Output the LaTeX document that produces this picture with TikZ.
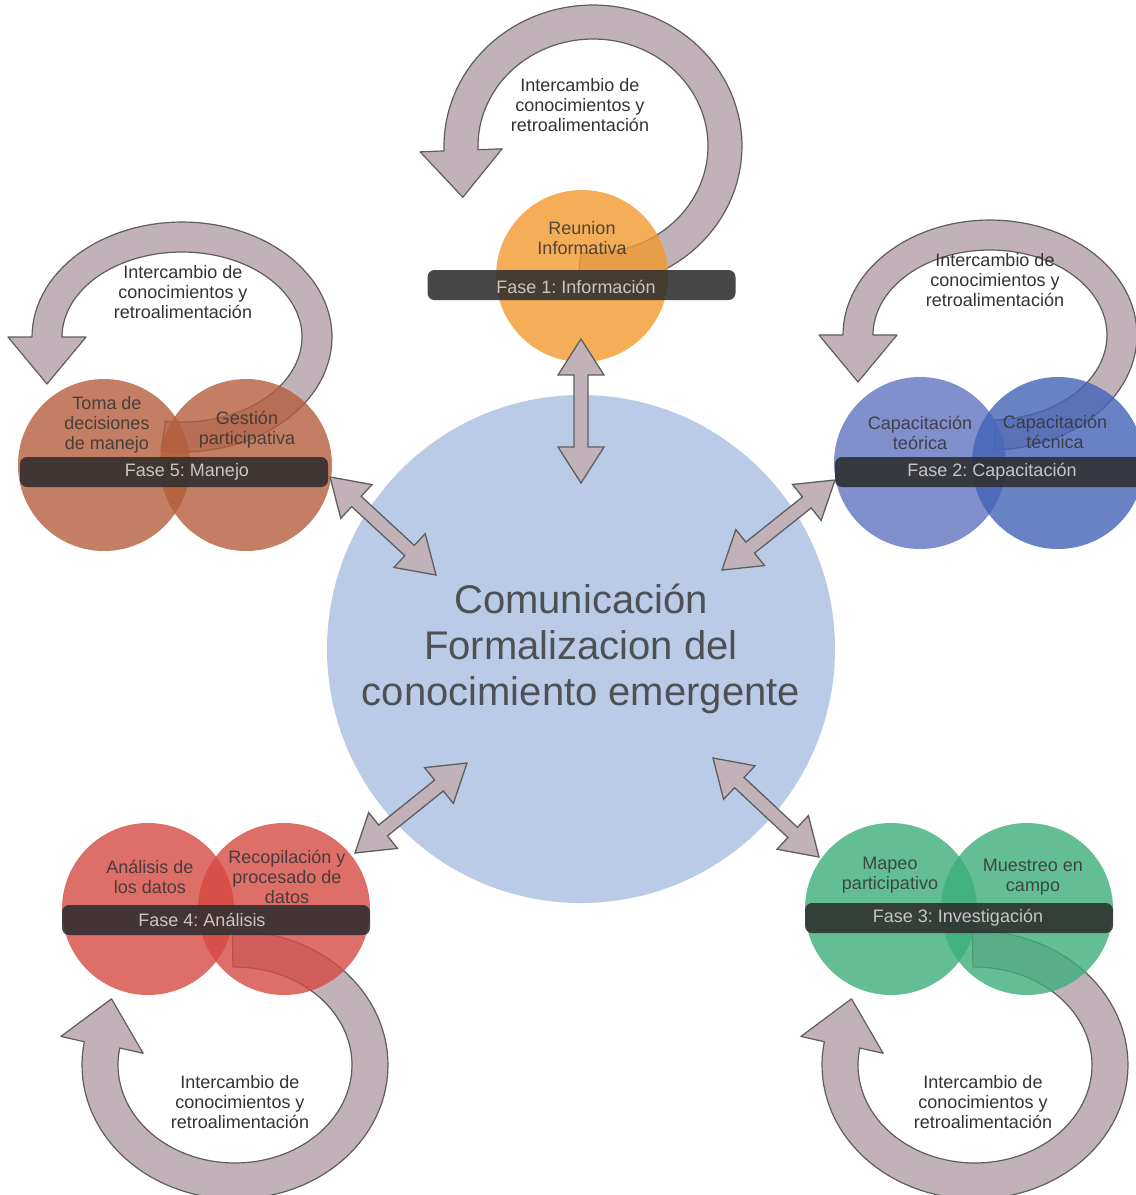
\documentclass[tikz,border=0pt]{standalone}
\usepackage{fontspec}
\setmainfont{Liberation Sans}
\frenchspacing
\usetikzlibrary{calc}
\definecolor{loopgrey}{HTML}{C0B2B8}
\definecolor{edgegrey}{HTML}{5E5E5E}
\definecolor{hubblue}{HTML}{B9CBE6}
\definecolor{hubink}{HTML}{4D5055}
\definecolor{barblack}{HTML}{2E2E2E}
\definecolor{barink}{HTML}{C9C5C2}
\definecolor{ink}{HTML}{333333}
\definecolor{infoorange}{HTML}{F39A2E}
\definecolor{mgmtbrown}{HTML}{B55E3C}
\definecolor{trainblueA}{HTML}{6075C0}
\definecolor{trainblueB}{HTML}{4463B8}
\definecolor{fieldgreen}{HTML}{3DAE7C}
\definecolor{datared}{HTML}{D64A43}
\tikzset{every node/.style={font=\fontsize{18}{20}\selectfont,text=ink,align=center,inner sep=0pt},
  disc/.style={circle,minimum size=172pt,fill=#1,fill opacity=0.8,draw=none},
  phasebar/.style={rounded corners=7pt,fill=barblack,fill opacity=0.88,
    minimum width=308pt,minimum height=30pt},
  barlbl/.style={text=barink},
  lbl/.style={text opacity=0.85},
  cyc/.style={draw=edgegrey,fill=loopgrey,line width=1.2pt,line join=round},
  dbl/.style={draw=edgegrey,fill=loopgrey,line width=1.3pt,line join=miter}}
% circular feedback arrow: centre, half axes, half width, start and end angle
\newcommand{\cycarrow}[7]{%
  \pgfmathsetmacro{\sg}{#7>#6 ? 1 : -1}%
  \pgfmathsetmacro{\px}{#1+#3*cos(#7)}%
  \pgfmathsetmacro{\py}{#2+#4*sin(#7)}%
  \pgfmathsetmacro{\tx}{0-(\sg)*#3*sin(#7)}%
  \pgfmathsetmacro{\ty}{(\sg)*#4*cos(#7)}%
  \pgfmathsetmacro{\tn}{veclen(\tx,\ty)}%
  \pgfmathsetmacro{\nx}{#4*cos(#7)}%
  \pgfmathsetmacro{\ny}{#3*sin(#7)}%
  \pgfmathsetmacro{\nn}{veclen(\nx,\ny)}%
  \pgfmathsetmacro{\hw}{#5+24}%
  \draw[cyc] plot[domain=#6:#7,samples=90] ({#1+(#3+#5)*cos(\x)},{#2+(#4+#5)*sin(\x)})
    -- ({\px+\hw*\nx/\nn},{\py+\hw*\ny/\nn})
    -- ({\px+47*\tx/\tn},{\py+47*\ty/\tn})
    -- ({\px-\hw*\nx/\nn},{\py-\hw*\ny/\nn})
    -- plot[domain=#7:#6,samples=90] ({#1+(#3-#5)*cos(\x)},{#2+(#4-#5)*sin(\x)})
    -- cycle;}
% two-headed block arrow between two named points
\newcommand{\twoway}[2]{%
  \draw[dbl] (#1)
    -- ($(#1)!36pt!(#2)!23pt!90:(#2)$) -- ($(#1)!36pt!(#2)!7pt!90:(#2)$)
    -- ($(#2)!36pt!(#1)!7pt!-90:(#1)$) -- ($(#2)!36pt!(#1)!23pt!-90:(#1)$)
    -- (#2)
    -- ($(#2)!36pt!(#1)!23pt!90:(#1)$) -- ($(#2)!36pt!(#1)!7pt!90:(#1)$)
    -- ($(#1)!36pt!(#2)!7pt!-90:(#2)$) -- ($(#1)!36pt!(#2)!23pt!-90:(#2)$)
    -- cycle;}

\begin{document}
\begin{tikzpicture}[x=1pt,y=-1pt]
  \path[use as bounding box,fill=white] (0,0) rectangle (1136,1195);

  % feedback loops
  \cycarrow{593}{146}{132}{124}{17}{96}{-182}
  \cycarrow{182}{337}{135}{100}{15}{98}{-180}
  \cycarrow{990}{335}{132}{100}{15}{88}{-180}
  \cycarrow{235}{1065}{135}{116}{18}{-91}{190}
  \cycarrow{975}{1065}{135}{116}{18}{-91}{190}

  % phase circles
  \node[disc=infoorange] (f1) at (582,276) {};
  \node[disc=mgmtbrown] (f5a) at (104,465) {};
  \node[disc=mgmtbrown] (f5b) at (246,465) {};
  \node[disc=trainblueA] (f2a) at (920,463) {};
  \node[disc=trainblueB] (f2b) at (1058,463) {};
  \node[disc=datared] (f4a) at (148,909) {};
  \node[disc=datared] (f4b) at (284,909) {};
  \node[disc=fieldgreen] (f3a) at (891,909) {};
  \node[disc=fieldgreen] (f3b) at (1027,909) {};

  % phase bars
  \node[phasebar] (f1bar) at (581.5,285) {};
  \node[phasebar] (f5bar) at (174,472) {};
  \node[phasebar] (f2bar) at (989,472) {};
  \node[phasebar] (f4bar) at (216,920) {};
  \node[phasebar] (f3bar) at (959,918) {};
  \node[barlbl] (f1lbl) at (576,287) {Fase 1: Información};
  \node[barlbl] (f5lbl) at (187,472) {Fase 5: Manejo};
  \node[barlbl] (f2lbl) at (992,472) {Fase 2: Capacitación};
  \node[barlbl] (f4lbl) at (202,920) {Fase 4: Análisis};
  \node[barlbl] (f3lbl) at (958,918) {Fase 3: Investigación};

  % circle labels
  \node[lbl] (t1) at (582,238) {Reunion\\Informativa};
  \node[lbl] (t5a) at (107,425) {Toma de\\decisiones\\de manejo};
  \node[lbl] (t5b) at (247,430) {Gestión\\participativa};
  \node[lbl] (t2a) at (920,433) {Capacitación\\teórica};
  \node[lbl] (t2b) at (1055,432) {Capacitación\\técnica};
  \node[lbl] (t4a) at (150,877) {Análisis de\\los datos};
  \node[lbl] (t4b) at (287,877) {Recopilación y\\procesado de\\datos};
  \node[lbl] (t3a) at (890,875) {Mapeo\\participativo};
  \node[lbl] (t3b) at (1033,877) {Muestreo en\\campo};

  % loop captions
  \node (c1) at (580,105) {Intercambio de\\conocimientos y\\retroalimentación};
  \node (c5) at (183,292) {Intercambio de\\conocimientos y\\retroalimentación};
  \node (c2) at (995,280) {Intercambio de\\conocimientos y\\retroalimentación};
  \node (c4) at (240,1102) {Intercambio de\\conocimientos y\\retroalimentación};
  \node (c3) at (983,1102) {Intercambio de\\conocimientos y\\retroalimentación};

  % central circle
  \node[circle,fill=hubblue,minimum size=508pt,text=hubink,
    font=\fontsize{40}{46}\selectfont] (hub) at (581,649)
    {Comunicación\\Formalizacion del\\conocimiento emergente};

  % arrows between the phases and the centre
  \coordinate (e1) at (581,339);   \coordinate (h1) at (581,483);
  \coordinate (e5) at (330,477);   \coordinate (h5) at (436,575);
  \coordinate (e2) at (835,480);   \coordinate (h2) at (722,570);
  \coordinate (e4) at (355,853);   \coordinate (h4) at (467,763);
  \coordinate (e3) at (819,857);   \coordinate (h3) at (713,758);
  \twoway{e1}{h1}
  \twoway{e5}{h5}
  \twoway{e2}{h2}
  \twoway{e4}{h4}
  \twoway{e3}{h3}
\end{tikzpicture}
\end{document}
